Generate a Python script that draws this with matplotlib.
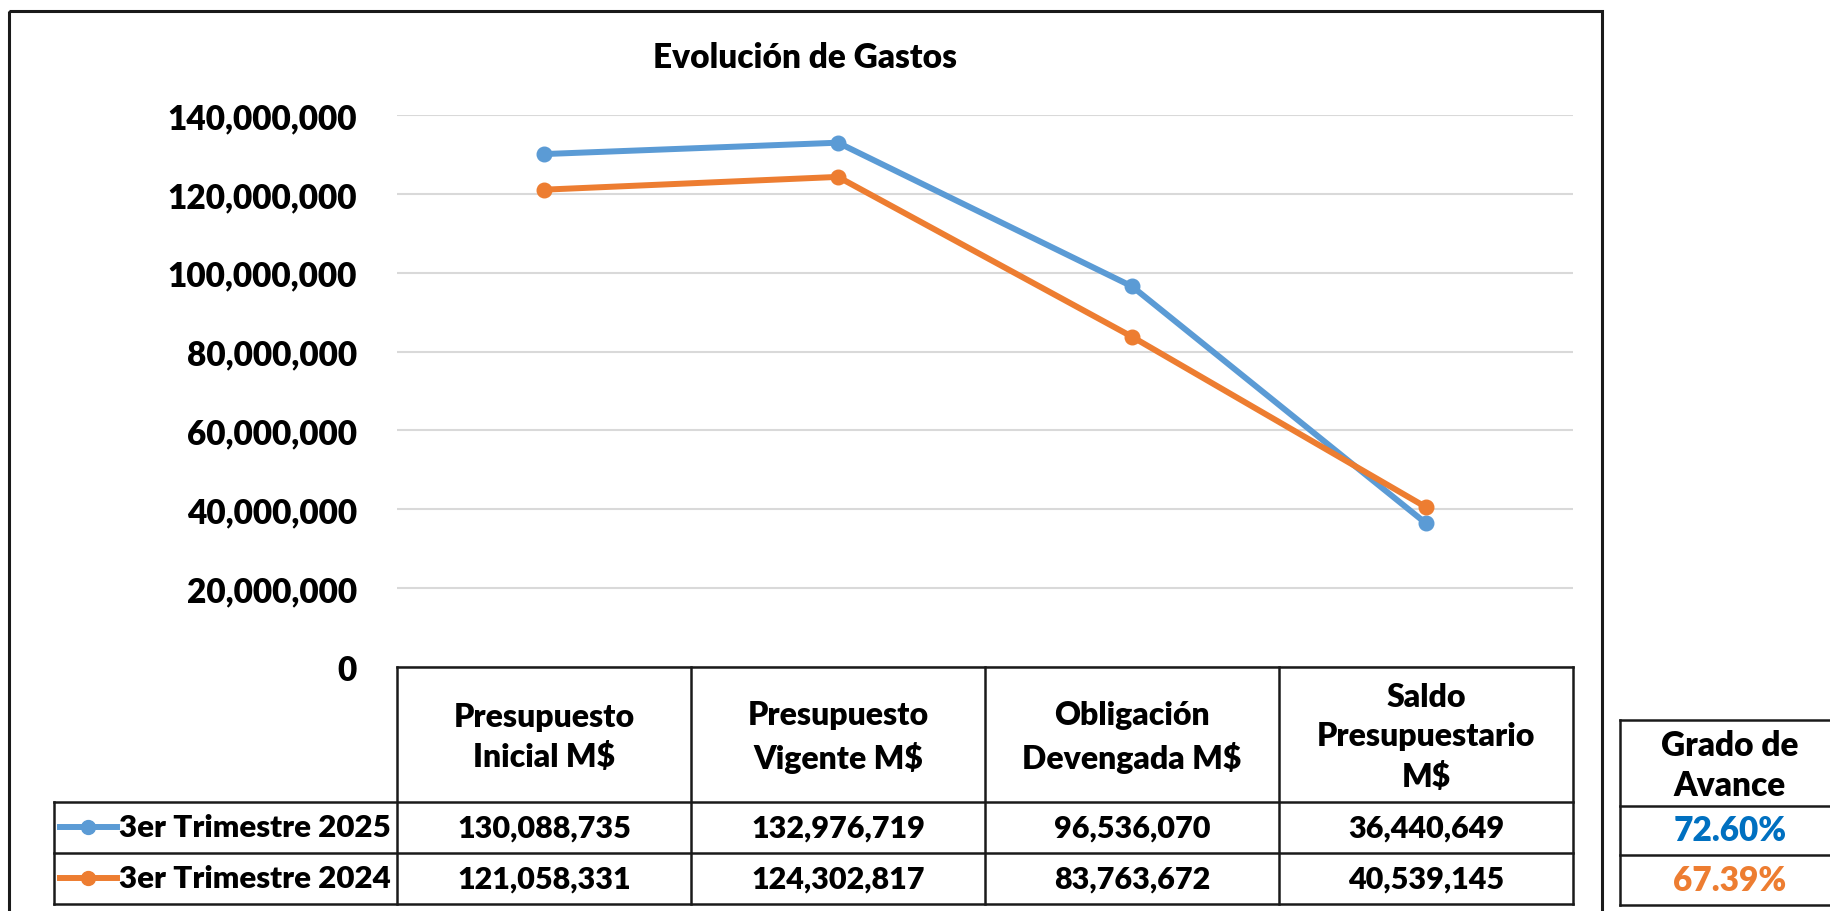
import matplotlib
matplotlib.use("Agg")
import matplotlib.pyplot as plt
from matplotlib.patches import Rectangle
from matplotlib.lines import Line2D

plt.rcParams['font.family'] = ['Lato', 'DejaVu Sans']
PESO = 'heavy'

categorias = ["Presupuesto\nInicial M$", "Presupuesto\nVigente M$",
              "Obligación\nDevengada M$", "Saldo\nPresupuestario\nM$"]
series = ["3er Trimestre 2025", "3er Trimestre 2024"]
valores_2025 = [130088735, 132976719, 96536070, 36440649]
valores_2024 = [121058331, 124302817, 83763672, 40539145]
avance = ["72.60%", "67.39%"]
yticks = [0, 20000000, 40000000, 60000000, 80000000, 100000000, 120000000, 140000000]

azul = "#5B9BD5"
naranja = "#ED7D31"
azul_txt = "#0070C0"
borde = "#1a1a1a"

W, H = 1830, 912
fig = plt.figure(figsize=(W / 100, H / 100), dpi=100)

# area de trazado (pixeles de la imagen)
px_l, px_r, px_t, px_b = 397, 1573, 116, 668
ax = fig.add_axes([px_l / W, 1 - px_b / H, (px_r - px_l) / W, (px_b - px_t) / H])
x = list(range(len(categorias)))
ax.plot(x, valores_2025, color=azul, lw=4.3, marker='o', ms=10.5, zorder=3)
ax.plot(x, valores_2024, color=naranja, lw=4.3, marker='o', ms=10.5, zorder=3)
ax.set_xlim(-0.5, len(categorias) - 0.5)
ax.set_ylim(0, 140000000)
ax.set_yticks(yticks)
ax.set_yticklabels([f"{v:,}" for v in yticks], fontsize=24, fontweight=PESO)
ax.tick_params(axis='y', length=0, pad=29)
ax.set_xticks([])
ax.grid(axis='y', color="#D9D9D9", lw=1.5)
ax.set_axisbelow(True)
for s in ax.spines.values():
    s.set_visible(False)

# capa para marco y tablas
ov = fig.add_axes([0, 0, 1, 1], facecolor='none')
ov.set_xlim(0, W)
ov.set_ylim(H, 0)
ov.axis('off')

fig.text(805 / W, 1 - 58 / H, "Evolución de Gastos", ha='center', va='center',
         fontsize=24, fontweight=PESO)

# marco exterior
ov.add_patch(Rectangle((9, 12), 1602 - 9, 920, fill=False, ec=borde, lw=2.2))

# tabla de datos
col_w = (px_r - px_l) / len(categorias)
hdr_b, r1_b, r2_b = 803, 854, 905
leg_l = 54
lw_t = 1.8
ov.plot([px_l, px_r], [px_b, px_b], color=borde, lw=lw_t)
ov.plot([leg_l, px_r], [hdr_b, hdr_b], color=borde, lw=lw_t)
ov.plot([leg_l, px_r], [r1_b, r1_b], color=borde, lw=lw_t)
ov.plot([leg_l, px_r], [r2_b, r2_b], color=borde, lw=lw_t)
ov.plot([leg_l, leg_l], [hdr_b, r2_b], color=borde, lw=lw_t)
for i in range(len(categorias) + 1):
    xx = px_l + i * col_w
    ov.plot([xx, xx], [px_b, r2_b], color=borde, lw=lw_t)

for i, cat in enumerate(categorias):
    cx = px_l + (i + 0.5) * col_w
    ov.text(cx, (px_b + hdr_b) / 2 + 2, cat, ha='center', va='center', fontsize=23,
            fontweight=PESO, linespacing=1.42)
    ov.text(cx, (hdr_b + r1_b) / 2, f"{valores_2025[i]:,}", ha='center', va='center',
            fontsize=22, fontweight=PESO)
    ov.text(cx, (r1_b + r2_b) / 2, f"{valores_2024[i]:,}", ha='center', va='center',
            fontsize=22, fontweight=PESO)

for nombre, color, (yt, yb) in zip(series, [azul, naranja], [(hdr_b, r1_b), (r1_b, r2_b)]):
    yc = (yt + yb) / 2
    ov.add_line(Line2D([60, 117], [yc, yc], color=color, lw=4.3))
    ov.add_line(Line2D([88], [yc], color=color, marker='o', ms=10))
    ov.text(119, yc, nombre, ha='left', va='center', fontsize=22.5, fontweight=PESO)

# tabla de grado de avance
g_l, g_r, g_t, g_h, g_1, g_2 = 1620, 1845, 721, 807, 856, 906
for yy in [g_t, g_h, g_1, g_2]:
    ov.plot([g_l, g_r], [yy, yy], color=borde, lw=lw_t)
ov.plot([g_l, g_l], [g_t, g_2], color=borde, lw=lw_t)
gx = 1730
ov.text(gx, (g_t + g_h) / 2 + 2, "Grado de\nAvance", ha='center', va='center', fontsize=24,
        fontweight=PESO, linespacing=1.32)
ov.text(gx, (g_h + g_1) / 2, avance[0], ha='center', va='center', fontsize=24,
        fontweight=PESO, color=azul_txt)
ov.text(gx, (g_1 + g_2) / 2, avance[1], ha='center', va='center', fontsize=24,
        fontweight=PESO, color=naranja)

fig.savefig("out.png", dpi=100)
